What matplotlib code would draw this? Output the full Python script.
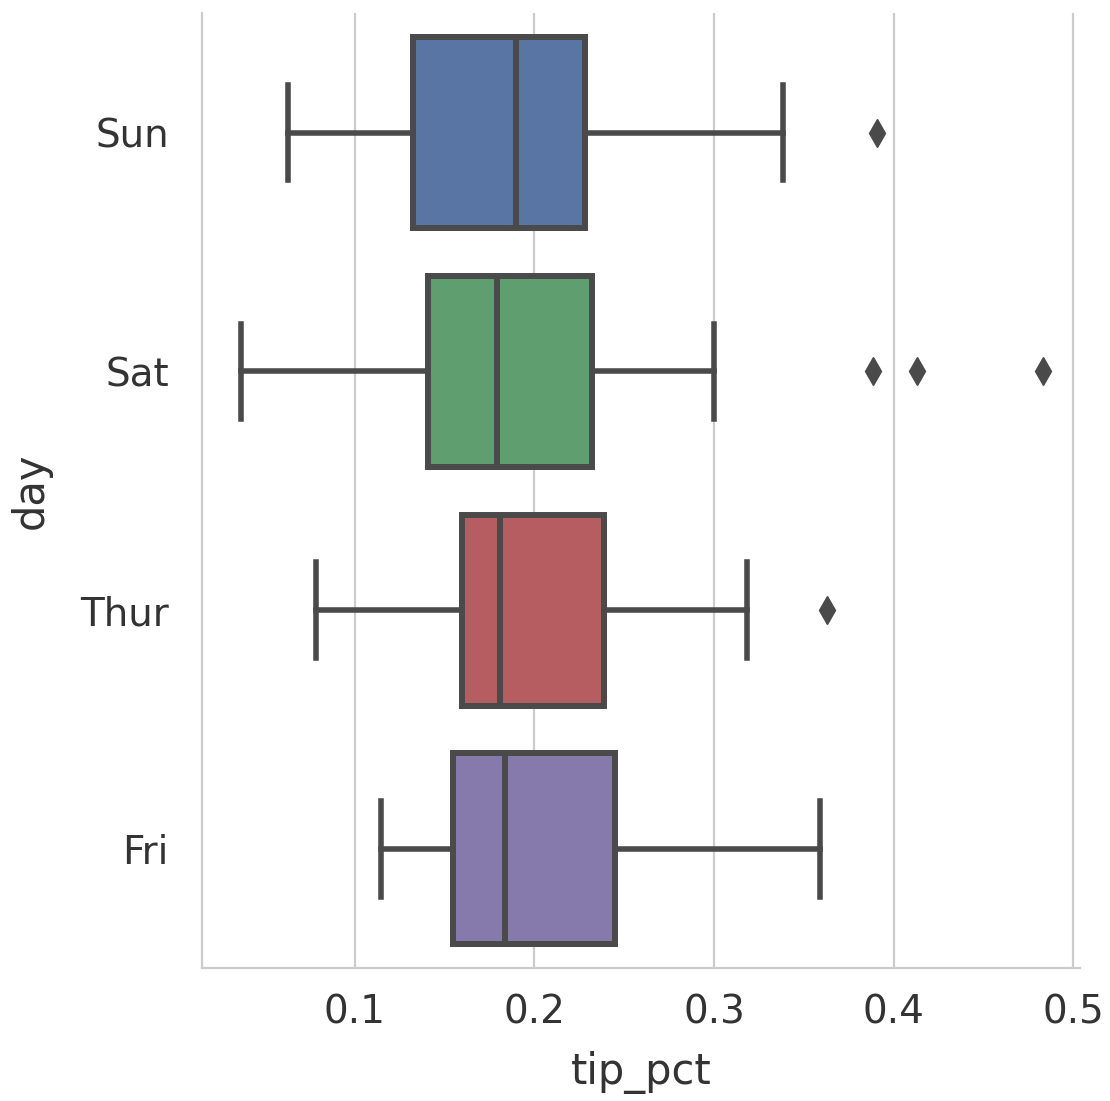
import numpy as np
import matplotlib.pyplot as plt

# values (tip_pct by day)
days = ["Sun", "Sat", "Thur", "Fri"]
whislo = [0.0627, 0.0365, 0.0783, 0.1145]
q1 = [0.1323, 0.1407, 0.1596, 0.1546]
med = [0.1897, 0.1791, 0.1808, 0.1836]
q3 = [0.2281, 0.2320, 0.2387, 0.2448]
whishi = [0.3384, 0.3000, 0.3184, 0.3591]
fliers = [[0.3908], [0.3886, 0.4131, 0.4833], [0.3630], []]
colors = ["#5875A4", "#5F9E6E", "#B55D60", "#857AAB"]

line_col = "#4a4a4a"
grid_col = "#cccccc"

fig = plt.figure(figsize=(11.1, 11.01), dpi=100)
ax = fig.add_axes([0.182, 0.1205, 0.791, 0.8675])

stats = []
for i in range(len(days)):
    stats.append(dict(label=days[i], whislo=whislo[i], q1=q1[i], med=med[i],
                      q3=q3[i], whishi=whishi[i], fliers=fliers[i]))

pos = np.arange(len(days))
bp = ax.bxp(stats, positions=pos, widths=0.8, vert=False, patch_artist=True,
            boxprops=dict(linewidth=4.3, edgecolor=line_col),
            medianprops=dict(linewidth=4.3, color=line_col),
            whiskerprops=dict(linewidth=4, color=line_col),
            capprops=dict(linewidth=4, color=line_col),
            flierprops=dict(marker="d", markersize=14, markerfacecolor=line_col,
                            markeredgecolor=line_col),
            zorder=3)
for patch, c in zip(bp["boxes"], colors):
    patch.set_facecolor(c)

ax.set_ylim(3.5, -0.5)
ax.set_xlim(0.0148, 0.5039)
ax.set_xticks([0.1, 0.2, 0.3, 0.4, 0.5])
ax.set_xticklabels(["0.1", "0.2", "0.3", "0.4", "0.5"])
ax.set_yticks(pos)
ax.set_yticklabels(days)

ax.grid(axis="x", color=grid_col, linewidth=1.6, zorder=0)
ax.set_axisbelow(True)
for s in ["top", "right"]:
    ax.spines[s].set_visible(False)
for s in ["left", "bottom"]:
    ax.spines[s].set_color(grid_col)
    ax.spines[s].set_linewidth(1.6)

ax.tick_params(axis="both", length=0, labelsize=28, labelcolor="#333333")
ax.tick_params(axis="x", pad=18)
ax.tick_params(axis="y", pad=24)
ax.set_xlabel("tip_pct", fontsize=30, color="#333333", labelpad=14)
ax.set_ylabel("day", fontsize=30, color="#333333", labelpad=20)

fig.savefig("out.png", dpi=100)
